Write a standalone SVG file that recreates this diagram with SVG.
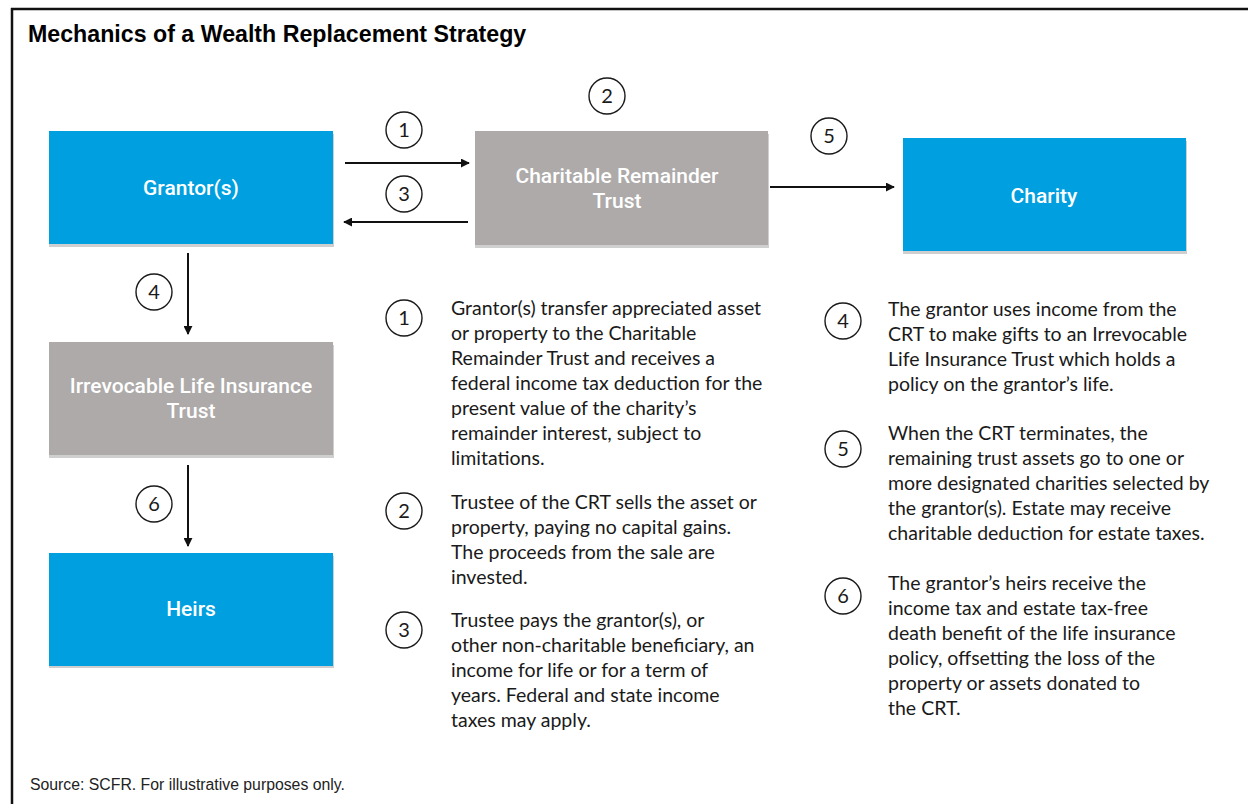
<svg xmlns="http://www.w3.org/2000/svg" width="1248" height="804" viewBox="0 0 1248 804">
  <style>
    .title { font-family: "Liberation Sans", Arial, sans-serif; font-weight: bold; font-size: 23.2px; fill: #000; }
    .src { font-family: "Liberation Sans", Arial, sans-serif; font-size: 15.8px; fill: #222; }
    .box-blue { fill: #009fdf; }
    .box-grey { fill: #adaaa9; }
    .shadow { fill: #cfcfcf; }
    .label { font-family: Roboto, "Liberation Sans", sans-serif; font-weight: 500; font-size: 21px; fill: #fff; text-anchor: middle; }
    .body { font-family: Lato, "Liberation Sans", sans-serif; font-size: 19.5px; fill: #1a1a1a; }
    .num-circle { fill: #fff; stroke: #1a1a1a; stroke-width: 1.4; }
    .num { font-family: Lato, "Liberation Sans", sans-serif; font-size: 20px; fill: #1a1a1a; text-anchor: middle; }
    .conn { stroke: #111; stroke-width: 2; fill: none; marker-end: url(#arrow); }
  </style>
  <defs>
    <marker id="arrow" viewBox="0 0 10 10" refX="9" refY="5" markerWidth="4.5" markerHeight="4.5" orient="auto" markerUnits="strokeWidth">
      <path d="M0,0 L10,5 L0,10 z" fill="#111"/>
    </marker>
    <symbol id="badge" overflow="visible">
      <circle class="num-circle" cx="0" cy="0" r="18"/>
    </symbol>
  </defs>

  <rect x="0" y="0" width="1248" height="804" fill="#fff"/>

  <!-- outer frame: top and left rules -->
  <line x1="11" y1="9" x2="1248" y2="9" stroke="#111" stroke-width="2.5"/>
  <line x1="12" y1="8" x2="12" y2="804" stroke="#111" stroke-width="2.5"/>

  <text class="title" x="28" y="42">Mechanics of a Wealth Replacement Strategy</text>

  <!-- nodes -->
  <g id="grantor">
    <rect class="shadow" x="49" y="134" width="285" height="113"/>
    <rect class="box-blue" x="49" y="131" width="284" height="113"/>
    <text class="label" x="191" y="195">Grantor(s)</text>
  </g>
  <g id="crt">
    <rect class="shadow" x="475" y="134" width="294" height="114"/>
    <rect class="box-grey" x="475" y="131" width="293" height="114"/>
    <text class="label" x="617" y="183">Charitable Remainder</text>
    <text class="label" x="617" y="208">Trust</text>
  </g>
  <g id="charity">
    <rect class="shadow" x="903" y="141" width="284" height="113"/>
    <rect class="box-blue" x="903" y="138" width="283" height="113"/>
    <text class="label" x="1044" y="203">Charity</text>
  </g>
  <g id="ilit">
    <rect class="shadow" x="49" y="345" width="285" height="113"/>
    <rect class="box-grey" x="49" y="342" width="284" height="113"/>
    <text class="label" x="191" y="393">Irrevocable Life Insurance</text>
    <text class="label" x="191" y="418">Trust</text>
  </g>
  <g id="heirs">
    <rect class="shadow" x="49" y="556" width="285" height="112"/>
    <rect class="box-blue" x="49" y="553" width="284" height="113"/>
    <text class="label" x="191" y="616">Heirs</text>
  </g>

  <!-- connectors -->
  <g id="connectors">
    <line class="conn" x1="345" y1="163" x2="469" y2="163"/>
    <line class="conn" x1="468" y1="222" x2="344" y2="222"/>
    <line class="conn" x1="770" y1="187" x2="894" y2="187"/>
    <line class="conn" x1="188" y1="253" x2="188" y2="334"/>
    <line class="conn" x1="188" y1="465" x2="188" y2="546"/>
  </g>

  <!-- step badges on the flow -->
  <g id="flow-badges">
    <use href="#badge" x="404" y="130"/><text class="num" x="404" y="137">1</text>
    <use href="#badge" x="607" y="96"/><text class="num" x="607" y="103">2</text>
    <use href="#badge" x="404" y="194"/><text class="num" x="404" y="201">3</text>
    <use href="#badge" x="154" y="292"/><text class="num" x="154" y="299">4</text>
    <use href="#badge" x="829" y="136"/><text class="num" x="829" y="143">5</text>
    <use href="#badge" x="154" y="504"/><text class="num" x="154" y="511">6</text>
  </g>

  <!-- step descriptions -->
  <g id="step-1">
    <use href="#badge" x="404" y="318"/><text class="num" x="404" y="325">1</text>
    <text class="body">
      <tspan x="451" y="315">Grantor(s) transfer appreciated asset</tspan>
      <tspan x="451" y="340">or property to the Charitable</tspan>
      <tspan x="451" y="365">Remainder Trust and receives a</tspan>
      <tspan x="451" y="390">federal income tax deduction for the</tspan>
      <tspan x="451" y="415">present value of the charity’s</tspan>
      <tspan x="451" y="440">remainder interest, subject to</tspan>
      <tspan x="451" y="465">limitations.</tspan>
    </text>
  </g>
  <g id="step-2">
    <use href="#badge" x="404" y="511"/><text class="num" x="404" y="518">2</text>
    <text class="body">
      <tspan x="451" y="509">Trustee of the CRT sells the asset or</tspan>
      <tspan x="451" y="534">property, paying no capital gains.</tspan>
      <tspan x="451" y="559">The proceeds from the sale are</tspan>
      <tspan x="451" y="584">invested.</tspan>
    </text>
  </g>
  <g id="step-3">
    <use href="#badge" x="404" y="630"/><text class="num" x="404" y="637">3</text>
    <text class="body">
      <tspan x="451" y="627">Trustee pays the grantor(s), or</tspan>
      <tspan x="451" y="652">other non-charitable beneficiary, an</tspan>
      <tspan x="451" y="677">income for life or for a term of</tspan>
      <tspan x="451" y="702">years. Federal and state income</tspan>
      <tspan x="451" y="727">taxes may apply.</tspan>
    </text>
  </g>
  <g id="step-4">
    <use href="#badge" x="843" y="321"/><text class="num" x="843" y="328">4</text>
    <text class="body">
      <tspan x="888" y="316">The grantor uses income from the</tspan>
      <tspan x="888" y="341">CRT to make gifts to an Irrevocable</tspan>
      <tspan x="888" y="366">Life Insurance Trust which holds a</tspan>
      <tspan x="888" y="391">policy on the grantor’s life.</tspan>
    </text>
  </g>
  <g id="step-5">
    <use href="#badge" x="843" y="449"/><text class="num" x="843" y="456">5</text>
    <text class="body">
      <tspan x="888" y="440">When the CRT terminates, the</tspan>
      <tspan x="888" y="465">remaining trust assets go to one or</tspan>
      <tspan x="888" y="490">more designated charities selected by</tspan>
      <tspan x="888" y="515">the grantor(s). Estate may receive</tspan>
      <tspan x="888" y="540">charitable deduction for estate taxes.</tspan>
    </text>
  </g>
  <g id="step-6">
    <use href="#badge" x="843" y="596"/><text class="num" x="843" y="603">6</text>
    <text class="body">
      <tspan x="888" y="590">The grantor’s heirs receive the</tspan>
      <tspan x="888" y="615">income tax and estate tax-free</tspan>
      <tspan x="888" y="640">death benefit of the life insurance</tspan>
      <tspan x="888" y="665">policy, offsetting the loss of the</tspan>
      <tspan x="888" y="690">property or assets donated to</tspan>
      <tspan x="888" y="715">the CRT.</tspan>
    </text>
  </g>

  <text class="src" x="30" y="790">Source: SCFR. For illustrative purposes only.</text>
</svg>
